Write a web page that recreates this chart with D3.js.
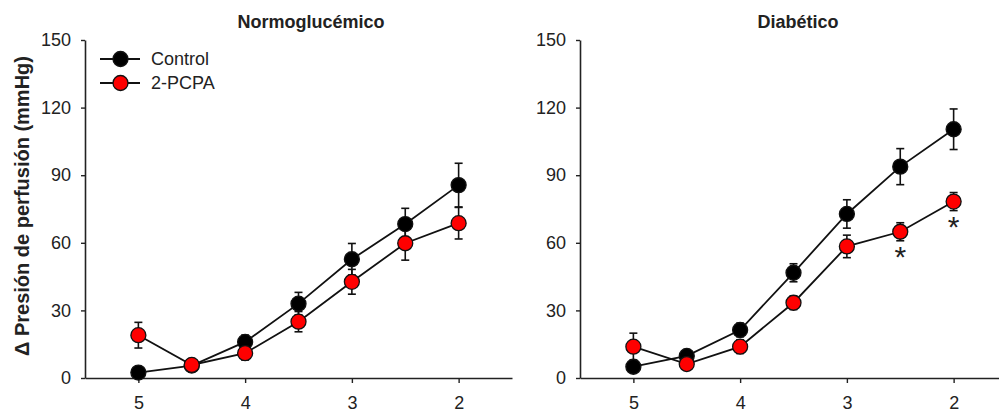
<!DOCTYPE html>
<html>
<head>
<meta charset="utf-8">
<script src="https://cdn.jsdelivr.net/npm/d3@7"></script>
<style>
  body { margin: 0; background: #fff; }
  svg { display: block; font-family: "Liberation Sans", Arial, sans-serif; }
</style>
</head>
<body>
<svg id="chart" width="999" height="412"></svg>
<script>
// log concentration (reversed axis)
var xValues = [5, 4.5, 4, 3.5, 3, 2.5, 2];
var xTicks = [5, 4, 3, 2];
var yTicks = [0, 30, 60, 90, 120, 150];

var normoControl    = [2.4, 5.5, 16, 33, 52.7, 68.3, 85.6];
var normoControlErr = [1, 1, 3, 5, 7, 7, 9.7];
var normoPcpa       = [19, 5.8, 11, 25, 42.7, 59.8, 68.7];
var normoPcpaErr    = [5.7, 1.5, 3, 4.5, 5.5, 7.5, 7];

var diabControl     = [5, 9.8, 21.3, 46.7, 72.8, 93.8, 110.4];
var diabControlErr  = [1, 1.5, 3, 4, 6.3, 8, 9];
var diabPcpa        = [13.9, 6.2, 13.9, 33.4, 58.4, 64.9, 78.3];
var diabPcpaErr     = [6, 1.5, 3, 3, 5, 4, 4];
var diabSignif      = [false, false, false, false, false, true, true];

var seriesNames = ["Control", "2-PCPA"];
var seriesFill = ["#000000", "#ff0000"];

(function(d3) {
	var svg = d3.select("#chart");

	var y = d3.scaleLinear().domain([0, 150]).range([378, 40]);

	function panel(left, right, title, titleX, control, controlErr, pcpa, pcpaErr, signif) {
		var x = d3.scaleLinear().domain([5.5, 1.5]).range([left, right]);
		var g = svg.append("g");

		// axes
		g.append("g")
			.attr("transform", "translate(" + left + ",0)")
			.call(d3.axisLeft(y).tickValues(yTicks).tickSize(4).tickSizeOuter(0).tickPadding(10))
			.call(styleAxis);
		g.append("g")
			.attr("transform", "translate(0," + y(0) + ")")
			.call(d3.axisBottom(x).tickValues(xTicks).tickFormat(d3.format("d")).tickSize(5).tickSizeOuter(0).tickPadding(13))
			.call(styleAxis);

		g.append("text")
			.attr("x", titleX)
			.attr("y", 28)
			.attr("text-anchor", "middle")
			.style("font-weight", "bold")
			.style("font-size", "18px")
			.attr("fill", "#222")
			.text(title);

		var sets = [
			{vals: control, err: controlErr, fill: seriesFill[0]},
			{vals: pcpa, err: pcpaErr, fill: seriesFill[1]}
		];

		var line = d3.line()
			.x(function(d, i) { return x(xValues[i]); })
			.y(function(d) { return y(d); });

		// lines
		sets.forEach(function(s) {
			g.append("path")
				.attr("d", line(s.vals))
				.attr("fill", "none")
				.attr("stroke", "#111")
				.attr("stroke-width", 1.8);
		});

		// error bars
		sets.forEach(function(s) {
			var eb = g.selectAll(null).data(s.vals).enter().append("g");
			eb.append("line")
				.attr("x1", function(d, i) { return x(xValues[i]); })
				.attr("x2", function(d, i) { return x(xValues[i]); })
				.attr("y1", function(d, i) { return y(d - s.err[i]); })
				.attr("y2", function(d, i) { return y(d + s.err[i]); })
				.attr("stroke", "#111").attr("stroke-width", 1.6);
			[-1, 1].forEach(function(sign) {
				eb.append("line")
					.attr("x1", function(d, i) { return x(xValues[i]) - 4; })
					.attr("x2", function(d, i) { return x(xValues[i]) + 4; })
					.attr("y1", function(d, i) { return y(d + sign * s.err[i]); })
					.attr("y2", function(d, i) { return y(d + sign * s.err[i]); })
					.attr("stroke", "#111").attr("stroke-width", 1.6);
			});
		});

		// markers
		sets.forEach(function(s) {
			g.selectAll(null).data(s.vals).enter().append("circle")
				.attr("cx", function(d, i) { return x(xValues[i]); })
				.attr("cy", function(d) { return y(d); })
				.attr("r", 7.5)
				.attr("fill", s.fill)
				.attr("stroke", "#111")
				.attr("stroke-width", 1.3);
		});

		if (signif) {
			g.selectAll(null).data(pcpa).enter()
				.filter(function(d, i) { return signif[i]; })
				.append("text")
				.attr("x", function(d) { return x(xValues[pcpa.indexOf(d)]); })
				.attr("y", function(d) { var i = pcpa.indexOf(d); return y(d - pcpaErr[i]) + 26; })
				.attr("text-anchor", "middle")
				.style("font-size", "30px")
				.attr("fill", "#222")
				.text("*");
		}
		return x;
	}

	function styleAxis(sel) {
		sel.select(".domain").attr("stroke", "#222").attr("stroke-width", 1.6);
		sel.selectAll(".tick line").attr("stroke", "#222").attr("stroke-width", 1.4);
		sel.selectAll(".tick text")
			.attr("fill", "#222")
			.style("font-size", "18px")
			.style("font-family", "'Liberation Sans', Arial, sans-serif");
	}

	panel(85, 512, "Normoglucémico", 311, normoControl, normoControlErr, normoPcpa, normoPcpaErr, null);
	panel(580, 1007, "Diabético", 798, diabControl, diabControlErr, diabPcpa, diabPcpaErr, diabSignif);

	// y label
	svg.append("text")
		.attr("transform", "translate(29,206) rotate(-90)")
		.attr("text-anchor", "middle")
		.style("font-weight", "bold")
		.style("font-size", "20px")
		.attr("fill", "#222")
		.text("Δ Presión de perfusión (mmHg)");

	// legend
	var legend = svg.selectAll(".legend")
		.data(seriesNames)
		.enter().append("g")
		.attr("class", "legend")
		.attr("transform", function(d, i) { return "translate(100," + (59 + i * 24) + ")"; });
	legend.append("line")
		.attr("x1", 0).attr("x2", 40)
		.attr("stroke", "#111").attr("stroke-width", 1.8);
	legend.append("circle")
		.attr("cx", 20.5).attr("r", 7.5)
		.attr("fill", function(d, i) { return seriesFill[i]; })
		.attr("stroke", "#111").attr("stroke-width", 1.3);
	legend.append("text")
		.attr("x", 51).attr("dy", "0.35em")
		.style("font-size", "18px")
		.attr("fill", "#222")
		.text(function(d) { return d; });
})(window.d3);
</script>
</body>
</html>
